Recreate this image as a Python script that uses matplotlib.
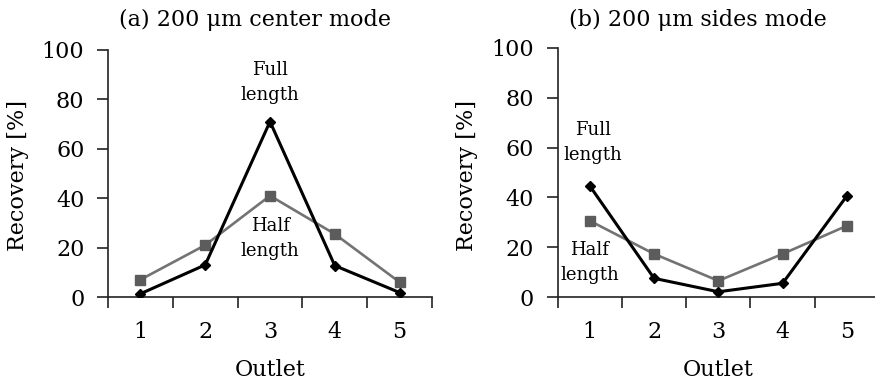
import matplotlib
matplotlib.use("Agg")
import matplotlib.pyplot as plt

outlets = ["1", "2", "3", "4", "5"]
center_full = [1.3, 13.0, 71.0, 12.7, 1.8]
center_half = [7.0, 21.0, 41.0, 25.5, 6.0]
sides_full = [44.6, 7.5, 2.1, 5.5, 40.6]
sides_half = [30.6, 17.3, 6.5, 17.3, 28.6]
titles = ["(a) 200 \u03bcm center mode", "(b) 200 \u03bcm sides mode"]
y_ticks = [0, 20, 40, 60, 80, 100]

plt.rcParams['font.family'] = ['DejaVu Serif']

fig = plt.figure(figsize=(8.75, 3.86), dpi=100)
axes_rects = [
    [108/875, 1-297/386, (432-108)/875, (297-50)/386],
    [557.7/875, 1-297/386, (879-557.7)/875, (297-48)/386],
]
title_x = [255/875, 698/875]
ylab_x = [18/875, 467/875]
outlet_x = [270/875, 718/875]
annots = [
    [("Full\nlength", 3, 86.8), ("Half\nlength", 3, 23.7)],
    [("Full\nlength", 1.05, 62.0), ("Half\nlength", 1.0, 13.9)],
]
series = [(center_full, center_half), (sides_full, sides_half)]

xpos = list(range(1, len(outlets) + 1))
for i in range(2):
    ax = fig.add_axes(axes_rects[i])
    full, half = series[i]
    ax.plot(xpos, half, color='#737373', lw=1.9, marker='s', ms=7, mec='#5c5c5c', mfc='#5c5c5c', zorder=3)
    ax.plot(xpos, full, color='black', lw=2.2, marker='D', ms=5.2, zorder=4)
    ax.set_xlim(0.5, len(outlets) + 0.5)
    ax.set_ylim(0, 100)
    ax.set_yticks(y_ticks)
    ax.set_yticklabels([str(t) for t in y_ticks], fontsize=16)
    ax.set_xticks([k + 0.5 for k in range(0, len(outlets) + 1)])
    ax.set_xticklabels([])
    ax.set_xticks(xpos, minor=True)
    ax.set_xticklabels(outlets, minor=True, fontsize=16)
    ax.tick_params(axis='x', which='major', direction='out', length=8, width=1.2, color='#222222')
    ax.tick_params(axis='x', which='minor', length=0, pad=17)
    ax.tick_params(axis='y', direction='out', length=8, width=1.2, color='#222222', pad=9)
    for s in ['top', 'right']:
        ax.spines[s].set_visible(False)
    for s in ['left', 'bottom']:
        ax.spines[s].set_linewidth(1.2)
        ax.spines[s].set_color('#222222')
    for txt, x, y in annots[i]:
        ax.text(x, y, txt, ha='center', va='center', fontsize=13, linespacing=1.5, zorder=5)
    fig.text(title_x[i], 1-20/386, titles[i], ha='center', va='center', fontsize=16)
    fig.text(ylab_x[i], 1-175/386, "Recovery [%]", rotation=90, ha='center', va='center', fontsize=16)
    fig.text(outlet_x[i], 1-370/386, "Outlet", ha='center', va='center', fontsize=16)

fig.savefig("out.png", dpi=100)
